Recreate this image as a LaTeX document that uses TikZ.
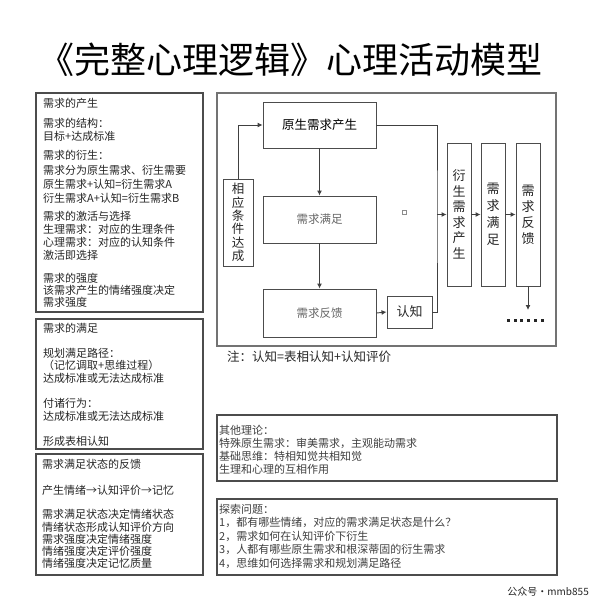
\documentclass[tikz,border=0pt]{standalone}
\usepackage{fontspec}
\setmainfont{Noto Sans CJK SC}
\usetikzlibrary{arrows.meta}
\begin{document}
\begin{tikzpicture}[x=1pt,y=-1pt,
  box/.style={draw=black!70,line width=1.1pt},
  mainbox/.style={draw=black!55,line width=1.4pt},
  fbox/.style={draw=black!70,line width=0.9pt,inner sep=0pt},
  arr/.style={-{Latex[length=5pt,width=5pt]},line width=0.9pt,draw=black!75},
  plain/.style={line width=0.9pt,draw=black!75},
  lt/.style={anchor=west,inner sep=0pt,font=\fontsize{11}{13}\selectfont,text=black!85},
  bt/.style={anchor=west,inner sep=0pt,font=\fontsize{11}{13}\selectfont,text=black!75},
  vt/.style={fbox,align=center,font=\fontsize{13}{16}\selectfont,text=black!85}]
\useasboundingbox (0,0) rectangle (593,602);
\fill[white] (0,0) rectangle (593,602);
% title
\node[inner sep=0pt] (title) at (290.5,60) {\fontsize{36}{36}\selectfont 《完整心理逻辑》心理活动模型};
% left boxes
\draw[box] (36,93) rectangle (203,312);
\draw[box] (36,319) rectangle (203,449);
\draw[box] (36,454) rectangle (203,575);
\foreach \y/\t [count=\i] in {103/需求的产生, 123/需求的结构：, 136/目标+达成标准, 155/需求的衍生：, 170/需求分为原生需求、衍生需要, 184/原生需求+认知=衍生需求A, 198/衍生需求A+认知=衍生需求B, 216/需求的激活与选择, 229/生理需求：对应的生理条件, 242/心理需求：对应的认知条件, 255/激活即选择, 278/需求的强度, 290/该需求产生的情绪强度决定, 302/需求强度}
  \node[lt] (a\i) at (43,\y) {\t};
\foreach \y/\t [count=\i] in {328/需求的满足, 353/规划满足路径：, 365/（记忆调取+思维过程）, 378/达成标准或无法达成标准, 403/付诸行为：, 416/达成标准或无法达成标准, 441/形成表相认知}
  \node[lt] (b\i) at (43,\y) {\t};
\foreach \y/\t [count=\i] in {464/需求满足状态的反馈, 490/产生情绪→认知评价→记忆, 514/需求满足状态决定情绪状态, 527/情绪状态形成认知评价方向, 539/需求强度决定情绪强度, 551/情绪强度决定评价强度, 563/情绪强度决定记忆质量}
  \node[lt] (c\i) at (42,\y) {\t};
% main diagram
\draw[mainbox] (217,93) rectangle (556,346);
\node[fbox,minimum width=113,minimum height=46,font=\fontsize{12.5}{14}\selectfont] (orig) at (319.5,125) {原生需求产生};
\node[fbox,minimum width=113,minimum height=47,font=\fontsize{11.5}{14}\selectfont,text=black!60] (sat) at (319.5,219.5) {需求满足};
\node[fbox,minimum width=113,minimum height=48,font=\fontsize{11.5}{14}\selectfont,text=black!60] (fb) at (319.5,313) {需求反馈};
\node[vt,minimum width=30,minimum height=87,font=\fontsize{12.5}{13.3}\selectfont] (cond) at (238,222.5) {相\\应\\条\\件\\达\\成};
\node[fbox,minimum width=45,minimum height=32,font=\fontsize{13}{14}\selectfont,text=black!85] (cog) at (409.5,312) {认知};
\node[vt,minimum width=24,minimum height=143,font=\fontsize{13}{15.5}\selectfont] (der) at (459,214.5) {衍\\生\\需\\求\\产\\生};
\node[vt,minimum width=24,minimum height=143,font=\fontsize{13}{17}\selectfont] (vsat) at (493,214.5) {需\\求\\满\\足};
\node[vt,minimum width=24,minimum height=143] (vfb) at (528,214.5) {需\\求\\反\\馈};
\coordinate (jx) at (437,214.5);
\coordinate (down) at (528,310);
\draw[arr] (cond.north) |- (orig.west);
\draw[arr] (orig.south) -- (sat.north);
\draw[arr] (sat.south) -- (fb.north);
\draw[arr] (fb.east) -- (cog.west);
\draw[plain] (orig.east) -| (jx) |- (cog.east);
\draw[arr] (jx) -- (der.west);
\draw[arr] (der.east) -- (vsat.west);
\draw[arr] (vsat.east) -- (vfb.west);
\draw[arr] (vfb.south) -- (down);
\foreach \k in {0,...,5}
  \fill[black!85] (507+\k*6.7,318.5) rectangle ++(3,3);
\draw[black!45,line width=0.6pt] (402,210) rectangle (406,214);
\node[anchor=west,inner sep=0pt,font=\fontsize{12.5}{14}\selectfont,text=black!85] (note) at (227,357) {注：认知=表相认知+认知评价};
% bottom boxes
\draw[box] (217,415) rectangle (557,481);
\draw[box] (217,499) rectangle (557,575);
\foreach \y/\t [count=\i] in {430/其他理论：, 443/特殊原生需求：审美需求，主观能动需求, 456/基础思维：特相知觉共相知觉, 469/生理和心理的互相作用}
  \node[bt] (d\i) at (219,\y) {\t};
\foreach \y/\t [count=\i] in {509/探索问题：, 522/1，都有哪些情绪，对应的需求满足状态是什么？, 536/2，需求如何在认知评价下衍生, 549/3，人都有哪些原生需求和根深蒂固的衍生需求, 563/4，思维如何选择需求和规划满足路径}
  \node[bt] (e\i) at (219,\y) {\t};
\node[anchor=east,inner sep=0pt,font=\fontsize{10}{12}\selectfont,text=black!85] (wm) at (589,592) {公众号·mmb855};
\end{tikzpicture}
\end{document}
